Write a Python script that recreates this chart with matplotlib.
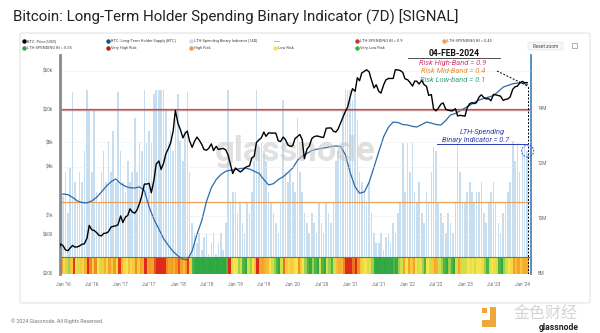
import numpy as np
import pandas as pd
import matplotlib
matplotlib.use("Agg")
import matplotlib.pyplot as plt
from matplotlib.colors import LinearSegmentedColormap
from matplotlib.patches import FancyBboxPatch, Circle, Rectangle
from matplotlib.lines import Line2D
from matplotlib.ticker import NullLocator

plt.rcParams['font.family'] = ['Roboto', 'DejaVu Sans']

# ---------------- data ----------------
# semi-monthly samples (1st and 15th), Dec 2015 .. Feb 2024
price_usd = [
    360, 455,
    430, 385, 375, 405, 435, 415, 418, 430, 450, 455, 535, 765,
    675, 665, 625, 580, 570, 610, 615, 640, 730, 745, 755, 780,
    1000, 830, 970, 1010, 1220, 1120, 1080, 1180, 1420, 1750, 2450, 2450,
    2500, 1920, 2750, 4300, 4700, 3700, 4400, 5700, 6700, 7800, 10900, 19500,
    13500, 11500, 9000, 10200, 10900, 8300, 6900, 8100, 9200, 8500, 7500, 6500,
    6350, 6700, 7600, 6300, 7100, 6500, 6600, 6700, 6400, 5600, 4200, 3300,
    3850, 3650, 3450, 3600, 3850, 4000, 4100, 5100, 5400, 7900, 8550, 9000,
    10600, 9400, 10400, 10300, 10300, 10300, 8300, 8100, 9200, 8600, 7400, 7100,
    7200, 8800, 9400, 9900, 8600, 5000, 6600, 7100, 8800, 9300, 9500, 9400,
    9200, 9100, 11800, 11900, 11900, 10900, 10600, 11500, 13800, 16000, 19000, 21300,
    29000, 36000, 33500, 49000, 45000, 56000, 58800, 61300, 57800, 46500, 36700, 40200,
    33500, 31800, 39900, 46000, 48000, 48000, 48000, 61500, 61000, 60000, 57000, 47600,
    46300, 43100, 38700, 44600, 44400, 41000, 45500, 40500, 38500, 29800, 30500, 20400,
    19300, 20800, 23300, 24100, 20100, 19700, 19300, 19300, 20500, 16700, 17000, 16800,
    16600, 21100, 23700, 24300, 23600, 24300, 28500, 30300, 28000, 27000, 27200, 25600,
    30600, 30300, 29700, 29200, 25900, 26600, 27000, 28500, 35400, 37900, 38700, 42300,
    44200, 42600, 42600,
]

lth_spending_bi = [
    0.50, 0.74,
    0.48, 0.60, 0.40, 0.62, 0.99, 0.55, 0.45, 0.60, 0.55, 0.70, 1.00, 0.90,
    0.60, 0.90, 0.50, 0.45, 0.60, 0.70, 0.55, 0.75, 0.60, 0.80, 0.55, 0.99,
    0.70, 0.55, 0.50, 0.65, 0.55, 0.60, 0.86, 0.60, 0.74, 0.70, 1.00, 0.74,
    0.80, 0.74, 0.98, 1.00, 1.00, 1.00, 1.00, 0.90, 0.75, 0.80, 0.70, 0.85,
    0.98, 0.75, 0.65, 0.80, 0.99, 0.60, 0.35, 0.30, 0.25, 0.30, 0.22, 0.28,
    0.30, 0.20, 0.25, 0.30, 0.20, 0.25, 0.30, 0.22, 0.35, 1.00, 0.45, 0.50,
    0.50, 0.40, 0.45, 0.35, 0.30, 0.45, 0.40, 0.50, 0.65, 1.00, 0.72, 0.74,
    0.70, 0.65, 0.50, 0.45, 0.40, 0.35, 0.30, 0.45, 0.95, 0.60, 0.55, 0.60,
    0.55, 0.50, 0.86, 0.60, 0.50, 0.40, 0.35, 0.30, 0.40, 0.35, 0.30, 0.45,
    0.35, 0.30, 0.45, 0.40, 0.35, 0.45, 0.65, 0.70, 0.68, 0.90, 1.00, 1.00,
    1.00, 0.95, 1.00, 0.85, 0.60, 0.55, 0.50, 0.45, 0.55, 0.40, 0.30, 0.25,
    0.25, 0.30, 0.22, 0.28, 0.30, 0.25, 0.35, 0.30, 0.40, 0.45, 0.74, 0.50,
    0.74, 0.60, 0.74, 0.50, 0.45, 0.55, 0.40, 0.35, 0.50, 0.45, 0.60, 0.72,
    0.70, 0.45, 0.40, 0.35, 0.30, 0.40, 0.35, 0.30, 0.45, 0.74, 0.60, 0.45,
    0.45, 0.50, 0.55, 0.50, 0.45, 0.50, 0.50, 0.55, 0.40, 0.35, 0.45, 0.50,
    0.55, 0.45, 0.35, 0.30, 0.40, 0.45, 0.50, 0.55, 0.75, 0.65, 0.74, 0.60,
    0.70, 0.72, 0.70,
]

# monthly long-term holder supply, millions of BTC, Dec 2015 .. Feb 2024
lth_supply_m = [
    10.85,
    10.87, 10.85, 10.75, 10.62, 10.56, 10.55, 10.62, 10.75, 10.95, 11.15, 11.32, 11.42,
    11.25, 11.15, 11.10, 11.09, 11.13, 11.00, 10.40, 9.95, 9.60, 9.25, 9.00, 8.78,
    8.62, 8.50, 8.48, 8.80, 9.40, 9.90, 10.60, 11.10, 11.40, 11.58, 11.70, 11.74,
    11.76, 11.80, 11.82, 11.78, 11.70, 11.62, 11.40, 11.20, 11.25, 11.40, 11.50, 11.65,
    11.82, 12.10, 12.25, 12.35, 12.45, 12.50, 12.53, 12.56, 12.60, 12.62, 12.60, 12.30,
    11.64, 11.13, 10.90, 10.95, 11.30, 11.85, 12.40, 12.95, 13.30, 13.49, 13.47, 13.40,
    13.38, 13.33, 13.31, 13.40, 13.49, 13.45, 13.40, 13.38, 13.55, 13.75, 13.80, 13.90,
    14.00, 14.10, 14.20, 14.29, 14.35, 14.40, 14.45, 14.60, 14.76, 14.82, 14.88, 14.91,
    14.91, 14.85,
]

price_ticks = [200, 600, 1000, 4000, 8000, 20000, 60000]
price_tick_labels = ["$200", "$600", "$1k", "$4k", "$8k", "$20k", "$60k"]
supply_ticks = [8, 10, 12, 14]
supply_tick_labels = ["8M", "10M", "12M", "14M"]

band_high, band_mid, band_low = 0.9, 0.45, 0.05
signal_date = pd.Timestamp("2024-02-04")
signal_value = 0.7

semi_dates = pd.date_range("2015-12-01", "2024-02-01", freq="SMS")
month_dates = pd.date_range("2015-12-01", "2024-02-01", freq="MS")
x_tick_dates = pd.date_range("2016-01-01", "2024-01-01", freq="6MS")
x_tick_labels = [d.strftime("%b '%y") for d in x_tick_dates]

# ---------------- figure ----------------
W, H = 600, 333
fig = plt.figure(figsize=(6, 3.33), dpi=100)
fig.patch.set_facecolor("white")


def fx(x):
    return x / W


def fy(y):
    return 1 - y / H


# card frame
fig.add_artist(FancyBboxPatch((fx(20), fy(303)), fx(570), (303 - 33) / H,
                              boxstyle="round,pad=0,rounding_size=0.004",
                              transform=fig.transFigure, fc="white",
                              ec="#e4e4e4", lw=0.8, zorder=0))

fig.text(fx(13), fy(17), "Bitcoin: Long-Term Holder Spending Binary Indicator (7D) [SIGNAL]",
         fontsize=10.9, color="#222222", va="center", ha="left")
fig.text(fx(11), fy(321), "© 2024 Glassnode. All Rights Reserved.",
         fontsize=3.8, color="#777777", va="center", ha="left")

rect = [fx(60), fy(274), (531 - 60) / W, (274 - 55) / H]
ax_bar = fig.add_axes(rect)
ax_sup = ax_bar.twinx()
ax_px = ax_bar.twinx()

xlo, xhi = pd.Timestamp("2015-12-12"), pd.Timestamp("2024-02-25")
for a in (ax_bar, ax_sup, ax_px):
    a.set_xlim(xlo, xhi)
    for s in a.spines.values():
        s.set_visible(False)

# indicator bars + risk bands
ax_bar.set_ylim(0.1005, 1.1688)
ax_bar.bar(semi_dates, lth_spending_bi, width=10, color="#bcd9ee",
           alpha=0.85, zorder=1, linewidth=0)
ax_bar.axhline(band_high, color="#b5403f", lw=1.6, alpha=0.9, zorder=2)
ax_bar.axhline(band_mid, color="#eca45c", lw=0.9, zorder=2)
ax_bar.axhline(band_low, color="#3a9e4f", lw=0.9, zorder=2)

# risk heat strip
risk_cmap = LinearSegmentedColormap.from_list("risk", [
    (0.0, "#22a03c"), (0.33, "#35ab45"), (0.42, "#b9dc4a"), (0.5, "#f6e54c"),
    (0.62, "#f7c53a"), (0.75, "#f5a229"), (0.9, "#f08b1d"), (0.97, "#ec6a1c"),
    (1.0, "#de2a1c")])
edges = list(semi_dates) + [pd.Timestamp("2024-02-14")]
strip_top = 0.1834
ax_bar.pcolormesh(edges, [0.1005, strip_top], np.array([lth_spending_bi]),
                  cmap=risk_cmap, vmin=0, vmax=1, zorder=3, shading="flat")
ax_bar.axhline(strip_top, color="#2f9e44", lw=0.8, zorder=4)

ax_bar.yaxis.set_major_locator(NullLocator())
ax_bar.set_xticks(x_tick_dates)
ax_bar.set_xticklabels(x_tick_labels)
ax_bar.tick_params(axis="x", length=0, pad=6, labelsize=3.3, labelcolor="#666666")

# long-term holder supply
ax_sup.set_ylim(7.9636, 15.927)
ax_sup.plot(month_dates, lth_supply_m, color="#2d6aa8", lw=0.9, zorder=2)
ax_sup.set_yticks(supply_ticks)
ax_sup.set_yticklabels(supply_tick_labels)
ax_sup.tick_params(axis="y", length=0, pad=5, labelsize=3.3, labelcolor="#666666")
ax_sup.spines["right"].set_visible(True)
ax_sup.spines["right"].set_color("#4a86c5")
ax_sup.spines["right"].set_linewidth(1.3)

# price (log)
ax_px.set_yscale("log")
ax_px.set_ylim(194.5, 92980)
ax_px.yaxis.tick_left()
ax_px.yaxis.set_label_position("left")
ax_px.set_yticks(price_ticks)
ax_px.set_yticklabels(price_tick_labels)
ax_px.yaxis.set_minor_locator(NullLocator())
ax_px.tick_params(axis="y", length=0, pad=5, labelsize=3.3, labelcolor="#666666")
for t in price_ticks[1:]:
    ax_px.axhline(t, color="#e9e9e9", lw=0.5, alpha=0.6, zorder=0)
ax_px.plot(semi_dates, price_usd, color="black", lw=1.0, zorder=3)
ax_px.spines["left"].set_visible(True)
ax_px.spines["left"].set_color("#8a8a8a")
ax_px.spines["left"].set_linewidth(2.0)

# watermark
ax_px.text(0.5, 0.56, "glassnode", transform=ax_px.transAxes, fontsize=25,
           color="#c8c8c8", alpha=0.55, ha="center", va="center",
           fontweight="bold", zorder=1)

# ---------------- legend ----------------
legend_rows = [
    (41, [(24, "BTC: Price [USD]", "black"),
          (108, "BTC: Long-Term Holder Supply [BTC]", "#1f4e8c"),
          (191, "LTH-Spending Binary Indicator [14D]", "#c6e0f2"),
          (275, None, "#999999"),
          (357, "LTH-SPENDING BI = 0.9", "#c0392b"),
          (444, "LTH-SPENDING BI = 0.45", "#f0a04b")]),
    (48, [(24, "LTH-SPENDING BI = 0.05", "#2e9e4f"),
          (108, "Very High Risk", "#b71c1c"),
          (191, "High Risk", "#f39c33"),
          (275, "Low Risk", "#f3e35a"),
          (357, "Very Low Risk", "#3cb043")]),
]
for yrow, items in legend_rows:
    for xm, label, col in items:
        if label is None:
            fig.add_artist(Line2D([fx(274), fx(279)], [fy(yrow), fy(yrow)],
                                  color=col, lw=0.5))
            continue
        fig.add_artist(Line2D([fx(xm)], [fy(yrow)], marker="o", ms=2.2,
                              color=col, ls=""))
        fig.text(fx(xm + 3), fy(yrow), label, fontsize=2.9, color="#444444",
                 va="center", ha="left")

fig.add_artist(FancyBboxPatch((fx(528), fy(50)), fx(35), 8 / H,
                              boxstyle="round,pad=0,rounding_size=0.003",
                              transform=fig.transFigure, fc="#f7f7f7",
                              ec="#e0e0e0", lw=0.4))
fig.text(fx(545.5), fy(46), "Reset zoom", fontsize=3.4, color="#444444",
         ha="center", va="center")
fig.add_artist(Rectangle((fx(572), fy(48)), fx(5), 5 / H, transform=fig.transFigure,
                         fc="none", ec="#777777", lw=0.4))

# ---------------- annotations ----------------
fig.text(fx(454), fy(53), "04-FEB-2024", fontsize=6.2, fontweight="bold",
         color="#111111", ha="center", va="center")
fig.add_artist(Line2D([fx(408), fx(500)], [fy(57.5), fy(57.5)], color="#333333", lw=0.6))
fig.text(fx(453), fy(62.5), f"Risk High-Band = {band_high}", fontsize=5.4,
         style="italic", color="#cf3a7c", ha="center", va="center")
fig.text(fx(453), fy(71), "Risk Mid-Band = 0.4", fontsize=5.4,
         style="italic", color="#e0913a", ha="center", va="center")
fig.text(fx(453), fy(80), "Risk Low-band = 0.1", fontsize=5.4,
         style="italic", color="#35a37a", ha="center", va="center")

fig.canvas.draw()
sx, sy = ax_bar.transData.transform((matplotlib.dates.date2num(signal_date), signal_value))
top_y = 86
vx = sx / fig.dpi / fig.get_figwidth()
fig.add_artist(Line2D([fx(497), vx], [fy(71), fy(top_y)], color="black", lw=0.7,
                      ls=(0, (2, 1.6))))
ax_bar.axvline(signal_date, ymin=0, ymax=(274 - top_y) / 219, color="black",
               lw=0.7, ls=(0, (2, 1.6)), zorder=5)
fig.add_artist(Circle((sx, sy), 6, transform=None, fill=False, ec="#3e5bc8",
                      lw=0.8, ls=(0, (1.5, 1.2)), zorder=6))
fig.text(fx(482), fy(132), "LTH-Spending", fontsize=5.3, style="italic",
         color="#2c3cb0", ha="center", va="center")
fig.text(fx(476), fy(140), f"Binary Indicator = {signal_value}", fontsize=5.3,
         style="italic", color="#2c3cb0", ha="center", va="center")
fig.add_artist(Line2D([fx(437), sx / W], [fy(144), fy(144)], color="#2c3cb0", lw=0.7))

# corner branding
fig.add_artist(Rectangle((fx(482), fy(327)), fx(14), 7 / H, transform=fig.transFigure,
                         fc="#f0a63a", ec="none"))
fig.add_artist(Rectangle((fx(490), fy(321)), fx(6), 14 / H, transform=fig.transFigure,
                         fc="#f0a63a", ec="none"))
fig.add_artist(Rectangle((fx(482), fy(313)), fx(5), 5 / H, transform=fig.transFigure,
                         fc="#f0a63a", ec="none"))
fig.text(fx(545), fy(313), "金色财经", fontsize=11.5,
         family=["Noto Sans CJK SC", "DejaVu Sans"], color="#d4d4d4",
         ha="center", va="center")
fig.text(fx(559), fy(327), "glassnode", fontsize=6.2, fontweight="bold",
         color="#222222", ha="center", va="center")

fig.savefig("out.png", dpi=100, facecolor="white")
